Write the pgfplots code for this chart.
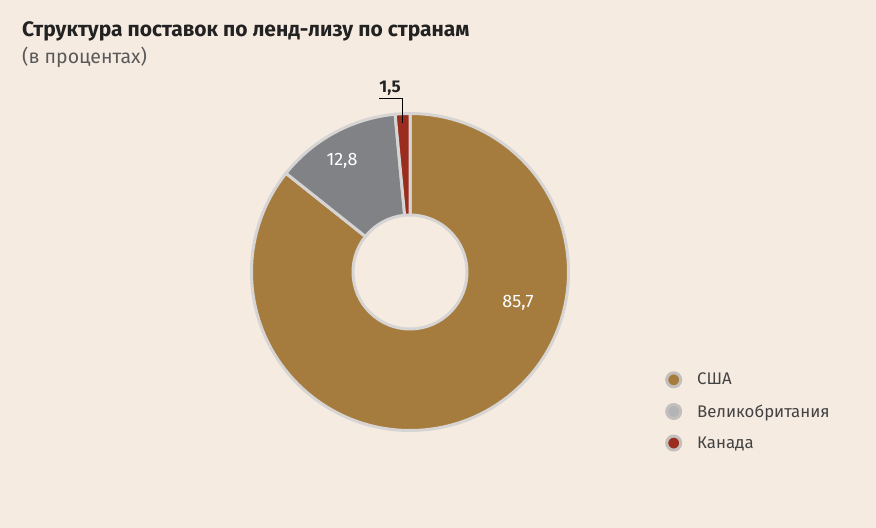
\documentclass[border=0pt]{standalone}
\usepackage{pgfplots}
\pgfplotsset{compat=1.18}
\usepackage{fontspec}
\setmainfont{Fira Sans}
\definecolor{bg}{HTML}{F6EBE1}
\definecolor{usa}{HTML}{A67C3E}
\definecolor{uk}{HTML}{808285}
\definecolor{ca}{HTML}{9B2D1F}
\definecolor{ring}{HTML}{D7D5D3}
\definecolor{legring}{HTML}{C2BFBC}
\definecolor{ttl}{HTML}{222222}
\definecolor{sub}{HTML}{5A5A5A}
\begin{document}
\begin{tikzpicture}
% values (percent)
\def\vUSA{85.7}\def\vUK{12.8}\def\vCA{1.5}
\pgfmathsetmacro\aZero{90}
\pgfmathsetmacro\aOne{\aZero-3.6*\vUSA}
\pgfmathsetmacro\aTwo{\aOne-3.6*\vUK}
\pgfmathsetmacro\aThree{\aTwo-3.6*\vCA}
\begin{axis}[hide axis, scale only axis, width=876bp, height=528bp,
  xmin=0, xmax=876, ymin=0, ymax=528, clip=false,
  legend style={at={(axis cs:665,157)}, anchor=north west, draw=none, fill=none,
    font=\fontsize{16.8bp}{19bp}\selectfont\color{ttl!85}, row sep=14bp,
    cells={anchor=west}, inner sep=0pt,
    /tikz/every odd column/.append style={column sep=13bp}},
  legend cell align=left]
\fill[bg] (axis cs:0,0) rectangle (axis cs:876,528);
\begin{scope}[shift={(axis cs:410,256)}, line width=3bp, draw=ring, line join=round]
\filldraw[fill=usa, draw=ring] (\aZero:158.5bp) arc[start angle=\aZero, end angle=\aOne, radius=158.5bp]
  -- (\aOne:57bp) arc[start angle=\aOne, end angle=\aZero, radius=57bp] -- cycle;
\filldraw[fill=uk, draw=ring] (\aOne:158.5bp) arc[start angle=\aOne, end angle=\aTwo, radius=158.5bp]
  -- (\aTwo:57bp) arc[start angle=\aTwo, end angle=\aOne, radius=57bp] -- cycle;
\filldraw[fill=ca, draw=ring] (\aTwo:158.5bp) arc[start angle=\aTwo, end angle=\aThree, radius=158.5bp]
  -- (\aThree:57bp) arc[start angle=\aThree, end angle=\aTwo, radius=57bp] -- cycle;
\end{scope}
\node[white, font=\fontsize{18bp}{20bp}\selectfont] at (axis cs:518,225) {85,7};
\node[white, font=\fontsize{18bp}{20bp}\selectfont] at (axis cs:342,367) {12,8};
\node[ttl, font=\fontsize{17bp}{20bp}\selectfont\bfseries] at (axis cs:390,440) {1,5};
\draw[black, line width=0.8bp] (axis cs:379,430) -- (axis cs:402,430) -- (axis cs:402,405);
\node[anchor=base west, ttl, inner sep=0pt, font=\fontsize{21bp}{24bp}\selectfont\bfseries] at (axis cs:22,491) {Структура поставок по ленд-лизу по странам};
\node[anchor=base west, sub, inner sep=0pt, font=\fontsize{19.5bp}{22bp}\selectfont] at (axis cs:22,464) {(в процентах)};
\addlegendimage{legend image code/.code={\filldraw[fill=usa, draw=legring, line width=3bp] (0.3cm,0bp) circle (7bp);}}
\addlegendentry{США}
\addlegendimage{legend image code/.code={\filldraw[fill=uk!60!white, draw=legring, line width=3bp] (0.3cm,0bp) circle (7bp);}}
\addlegendentry{Великобритания}
\addlegendimage{legend image code/.code={\filldraw[fill=ca, draw=legring, line width=3bp] (0.3cm,0bp) circle (7bp);}}
\addlegendentry{Канада}
\end{axis}
\end{tikzpicture}
\end{document}
